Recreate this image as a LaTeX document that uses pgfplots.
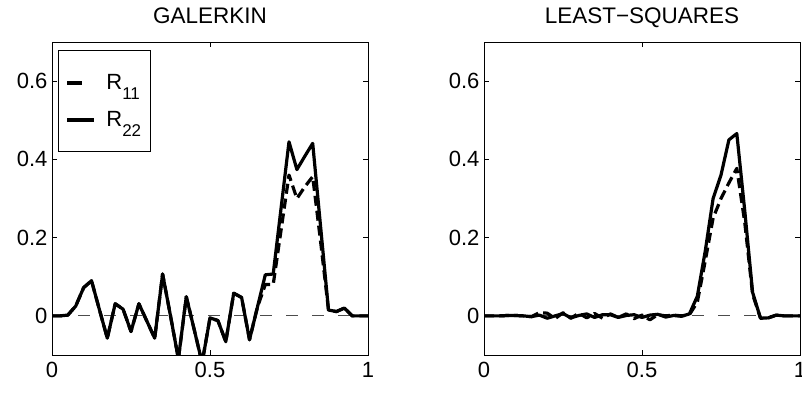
\documentclass[border=0pt]{standalone}
\usepackage{pgfplots}
\pgfplotsset{compat=1.18}
\usepackage{fontspec}
\setmainfont{Liberation Sans}
\newcommand\tickf{\fontsize{22}{24}\selectfont}
\newcommand\titlef{\fontsize{22.5}{24}\selectfont}
\newcommand\legf{\fontsize{22}{24}\selectfont}
\newcommand\subf{\fontsize{17}{17}\selectfont}

\pgfplotstableread{
x y
0 0
0.025 0
0.05 0.002
0.075 0.025
0.1 0.072
0.125 0.09
0.15 0.016
0.175 -0.057
0.2 0.031
0.225 0.017
0.25 -0.04
0.275 0.031
0.3 -0.013
0.325 -0.057
0.35 0.107
0.375 0.0
0.4 -0.11
0.425 0.049
0.45 -0.035
0.475 -0.12
0.5 -0.005
0.525 -0.012
0.55 -0.066
0.575 0.058
0.6 0.047
0.625 -0.061
0.65 0.022
0.675 0.105
0.7 0.107
0.725 0.276
0.75 0.445
0.775 0.374
0.8 0.408
0.825 0.441
0.85 0.228
0.875 0.015
0.9 0.011
0.925 0.02
0.95 0.0
0.975 0
1 0
}\galRtwo

\pgfplotstableread{
x y
0 0
0.025 0
0.05 0.002
0.075 0.025
0.1 0.072
0.125 0.09
0.15 0.016
0.175 -0.057
0.2 0.031
0.225 0.017
0.25 -0.04
0.275 0.031
0.3 -0.013
0.325 -0.057
0.35 0.107
0.375 0.0
0.4 -0.11
0.425 0.049
0.45 -0.035
0.475 -0.12
0.5 -0.005
0.525 -0.012
0.55 -0.066
0.575 0.058
0.6 0.047
0.625 -0.061
0.65 0.022
0.675 0.08
0.7 0.08
0.725 0.22
0.75 0.36
0.775 0.30
0.8 0.33
0.825 0.356
0.85 0.19
0.875 0.015
0.9 0.011
0.925 0.02
0.95 0.0
0.975 0
1 0
}\galRone

\pgfplotstableread{
x y
0 0
0.025 0
0.05 0
0.075 0.001
0.1 0.001
0.125 0
0.15 -0.002
0.175 0.002
0.2 -0.006
0.225 0
0.25 0.006
0.275 -0.005
0.3 0.001
0.325 0.005
0.35 -0.004
0.375 0.003
0.4 0.003
0.425 -0.004
0.45 0.001
0.475 0.003
0.5 -0.004
0.525 0.002
0.55 0.004
0.575 -0.003
0.6 0.001
0.625 -0.001
0.65 0.005
0.675 0.05
0.7 0.165
0.725 0.3
0.75 0.36
0.775 0.45
0.8 0.466
0.825 0.27
0.85 0.06
0.875 -0.006
0.9 -0.005
0.925 0.002
0.95 0
0.975 0
1 0
}\lsRtwo

\pgfplotstableread{
x y
0 0
0.025 0
0.05 0
0.075 0.001
0.1 0.001
0.125 0
0.15 -0.002
0.175 0.008
0.2 0.007
0.225 -0.007
0.25 0.008
0.275 -0.006
0.3 0.007
0.325 -0.005
0.35 0.006
0.375 -0.006
0.4 0.005
0.425 -0.004
0.45 0.005
0.475 -0.007
0.5 0.002
0.525 -0.01
0.55 0.003
0.575 0
0.6 0.002
0.625 0
0.65 0.003
0.675 0.035
0.7 0.14
0.725 0.25
0.75 0.3
0.775 0.34
0.8 0.377
0.825 0.24
0.85 0.055
0.875 -0.006
0.9 -0.005
0.925 0.002
0.95 0
0.975 0
1 0
}\lsRone

\pgfplotsset{
  myax/.style={
    scale only axis, width=316pt, height=313pt,
    anchor=south west,
    xmin=0, xmax=1, ymin=-0.1, ymax=0.7,
    xtick={0,0.5,1}, ytick={0,0.2,0.4,0.6},
    xticklabels={0,0.5,1},
    yticklabels={0,0.2,0.4,0.6},
    every tick label/.style={font=\tickf},
    tick align=inside, major tick length=5pt,
    tick style={black, line width=0.8pt},
    axis line style={black, line width=1pt},
    yticklabel style={xshift=-1pt},
    xticklabel style={yshift=-4pt},
  },
  zeroline/.style={forget plot, color=black!70, line width=1pt, dash pattern=on 12pt off 14pt},
  r1/.style={black, line width=3.2pt, dash pattern=on 10pt off 5pt, line join=round},
  r2/.style={black, line width=3.2pt, solid, line join=round},
}

\begin{document}
\begin{tikzpicture}
\path[use as bounding box] (0pt,0pt) rectangle (802pt,392pt);
\begin{axis}[myax, at={(52pt,37pt)},
  legend style={at={(rel axis cs:0.019,0.974)}, anchor=north west, draw=black, line width=0.8pt,
    font=\legf, inner xsep=7pt, inner ysep=22pt, row sep=16pt,
    /tikz/every odd column/.append style={column sep=8pt}},
  legend cell align=left]
\addplot[zeroline] coordinates {(0,0) (1,0)};
\addplot[r1, legend image code/.code={\draw[black, line width=4pt, solid] (0pt,0pt) -- (15pt,0pt);}] table {\galRone};
\addlegendentry{R\raisebox{-10pt}{\subf 11}}
\addplot[r2, legend image code/.code={\draw[black, line width=4pt, solid] (0pt,0pt) -- (27pt,0pt);}] table {\galRtwo};
\addlegendentry{R\raisebox{-10pt}{\subf 22}}
\end{axis}
\begin{axis}[myax, at={(484pt,37pt)}]
\addplot[zeroline] coordinates {(0,0) (1,0)};
\addplot[r1] table {\lsRone};
\addplot[r2] table {\lsRtwo};
\end{axis}
\node[anchor=base, inner sep=0pt, font=\titlef] at (210pt,369pt) {GALERKIN};
\node[anchor=base, inner sep=0pt, font=\titlef] at (642pt,369pt) {LEAST−SQUARES};
\end{tikzpicture}
\end{document}
